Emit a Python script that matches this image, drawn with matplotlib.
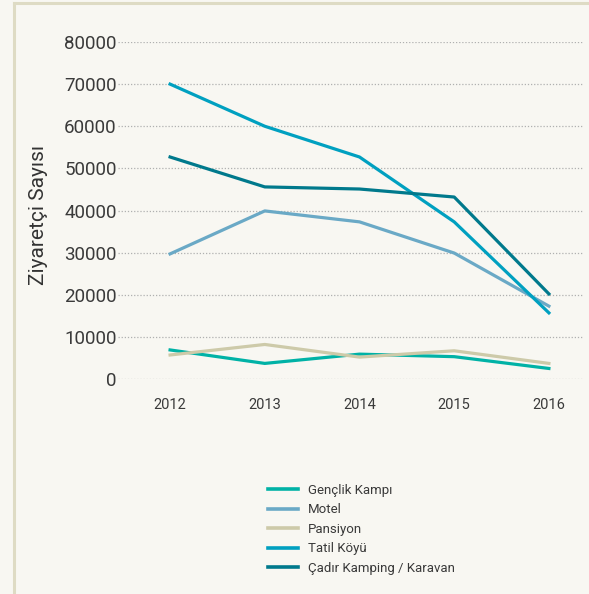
import matplotlib
matplotlib.use("Agg")
import matplotlib.pyplot as plt
from matplotlib.lines import Line2D

years = [2012, 2013, 2014, 2015, 2016]
series_names = ["Gençlik Kampı", "Motel", "Pansiyon", "Tatil Köyü", "Çadır Kamping / Karavan"]
genclik = [6900, 3700, 5900, 5300, 2500]
motel = [29700, 39900, 37300, 29900, 17300]
pansiyon = [5700, 8200, 5200, 6700, 3700]
tatil = [70000, 60000, 52700, 37300, 15700]
cadir = [52700, 45600, 45100, 43200, 20200]
colors = ["#00b2a6", "#6aa9c6", "#cdcaa9", "#00a0c0", "#00798c"]
yticks = [0, 10000, 20000, 30000, 40000, 50000, 60000, 70000, 80000]

plt.rcParams['font.family'] = ["Roboto", "DejaVu Sans"]

W, H = 589, 594
fig = plt.figure(figsize=(W/100, H/100), dpi=100)
bg = "#f8f7f2"
fig.patch.set_facecolor(bg)
fig.add_artist(Line2D([14/W, 14/W], [0, 1 - 3/H], color="#dedbc4", lw=2.2, transform=fig.transFigure))
fig.add_artist(Line2D([14/W, 1], [1 - 3/H, 1 - 3/H], color="#dedbc4", lw=2.2, transform=fig.transFigure))

left, right = 118/W, 583/W
bottom, top = 1 - 379/H, 1 - 42/H
ax = fig.add_axes([left, bottom, right - left, top - bottom])
ax.set_facecolor(bg)
for s in ax.spines.values():
    s.set_visible(False)

data = [genclik, motel, pansiyon, tatil, cadir]
for name, vals, c in zip(series_names, data, colors):
    ax.plot(years, vals, color=c, lw=2.3, label=name, clip_on=False, zorder=3)

ax.set_xlim(2011.45, 2016.36)
ax.set_ylim(0, 80000)
ax.set_yticks(yticks)
ax.set_yticklabels([str(v) for v in yticks], fontsize=13.5, color="#3a3a3a")
ax.set_xticks(years)
ax.set_xticklabels([str(y) for y in years], fontsize=10.5, color="#3a3a3a")
ax.tick_params(axis="y", length=0, pad=1)
ax.tick_params(axis="x", length=0, pad=14)
ax.yaxis.grid(True, linestyle=(0, (1, 1.5)), color="#b0b0b0", lw=0.9)
ax.set_axisbelow(True)
fig.text(38/W, 1 - 215/H, "Ziyaretçi Sayısı", rotation=90, fontsize=15, color="#333333",
         ha="center", va="center")

leg = fig.legend(loc="upper left", bbox_to_anchor=(256/W, 1 - 472/H), frameon=False,
                 fontsize=9.5, handlelength=2.3, handletextpad=0.75, labelspacing=0.49,
                 labelcolor="#3a3a3a")
for l in leg.get_lines():
    l.set_linewidth(2.6)

fig.savefig("out.png", dpi=100, facecolor=bg)
